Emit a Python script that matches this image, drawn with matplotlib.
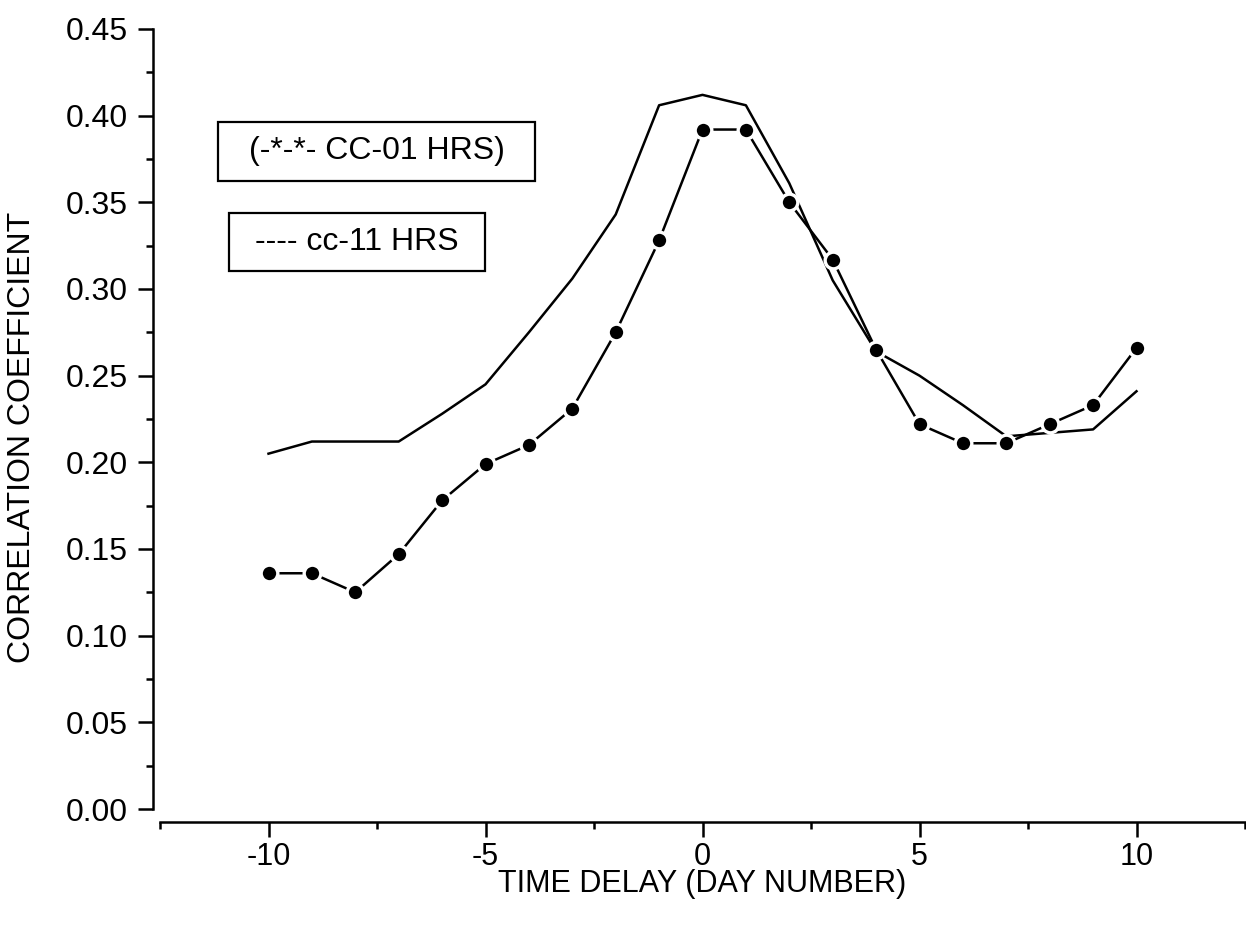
import matplotlib.pyplot as plt
from matplotlib.patches import Rectangle
from matplotlib.ticker import MultipleLocator
import numpy as np

plt.rcParams['font.family'] = ['Liberation Sans', 'DejaVu Sans']
plt.rcParams['axes.unicode_minus'] = False

# data
days = list(range(-10, 11))
cc_01 = [0.136, 0.136, 0.125, 0.147, 0.178, 0.199, 0.210, 0.231, 0.275, 0.328, 0.392,
         0.392, 0.350, 0.317, 0.265, 0.222, 0.211, 0.211, 0.222, 0.233, 0.266]
cc_11 = [0.205, 0.212, 0.212, 0.212, 0.228, 0.245, 0.275, 0.306, 0.343, 0.406, 0.412,
         0.406, 0.361, 0.305, 0.264, 0.250, 0.233, 0.215, 0.217, 0.219, 0.241]
legend_texts = ["(-*-*- CC-01 HRS)", "---- cc-11 HRS"]

W, H = 1246, 930
fig = plt.figure(figsize=(W / 100, H / 100), dpi=100)
ax = fig.add_axes([160 / W, 1 - 809 / H, (1245 - 160) / W, (809 - 29) / H])

ax.plot(days, cc_11, color='black', lw=1.8, zorder=2)
ax.plot(days, cc_01, color='black', lw=1.8, marker='o', ms=12, mfc='black',
        mec='white', mew=2.4, zorder=3)

ax.set_xlim(-12.5, 12.5)
ax.set_ylim(0, 0.45)

# Origin-like axes: only left and bottom, pushed outward
ax.spines['top'].set_visible(False)
ax.spines['right'].set_visible(False)
ax.spines['left'].set_position(('outward', 5))
ax.spines['bottom'].set_position(('outward', 9.5))
for s in ['left', 'bottom']:
    ax.spines[s].set_linewidth(1.8)

ax.yaxis.set_minor_locator(MultipleLocator(0.025))
ax.set_xticks([-10, -5, 0, 5, 10])
ax.set_xticks([-12.5, -7.5, -2.5, 2.5, 7.5, 12.5], minor=True)
ax.set_yticks(np.arange(0, 0.451, 0.05))
ax.set_yticklabels([f"{v:.2f}" for v in np.arange(0, 0.451, 0.05)])
ax.tick_params(which='major', length=11, width=1.8)
ax.tick_params(which='minor', length=5, width=1.8)
ax.tick_params(axis='y', labelsize=23, pad=7)
ax.tick_params(axis='x', labelsize=22, pad=3)

ax.set_xlabel("TIME DELAY (DAY NUMBER)", fontsize=22)
ax.set_ylabel("CORRELATION COEFFICIENT", fontsize=23)
ax.xaxis.set_label_coords(0.5, -0.077)
ax.yaxis.set_label_coords(-0.113, 0.476)

# the two boxed legend notes
boxes = [(218, 122, 535, 181), (229, 213, 485, 271)]
for (x0, y0, x1, y1), txt in zip(boxes, legend_texts):
    fig.patches.append(Rectangle((x0 / W, 1 - y1 / H), (x1 - x0) / W, (y1 - y0) / H,
                                 transform=fig.transFigure, fill=False,
                                 edgecolor='black', lw=1.6))
    fig.text((x0 + x1) / 2 / W, 1 - (y0 + y1) / 2 / H, txt, ha='center',
             va='center', fontsize=23)

fig.savefig('out.png', dpi=100)
